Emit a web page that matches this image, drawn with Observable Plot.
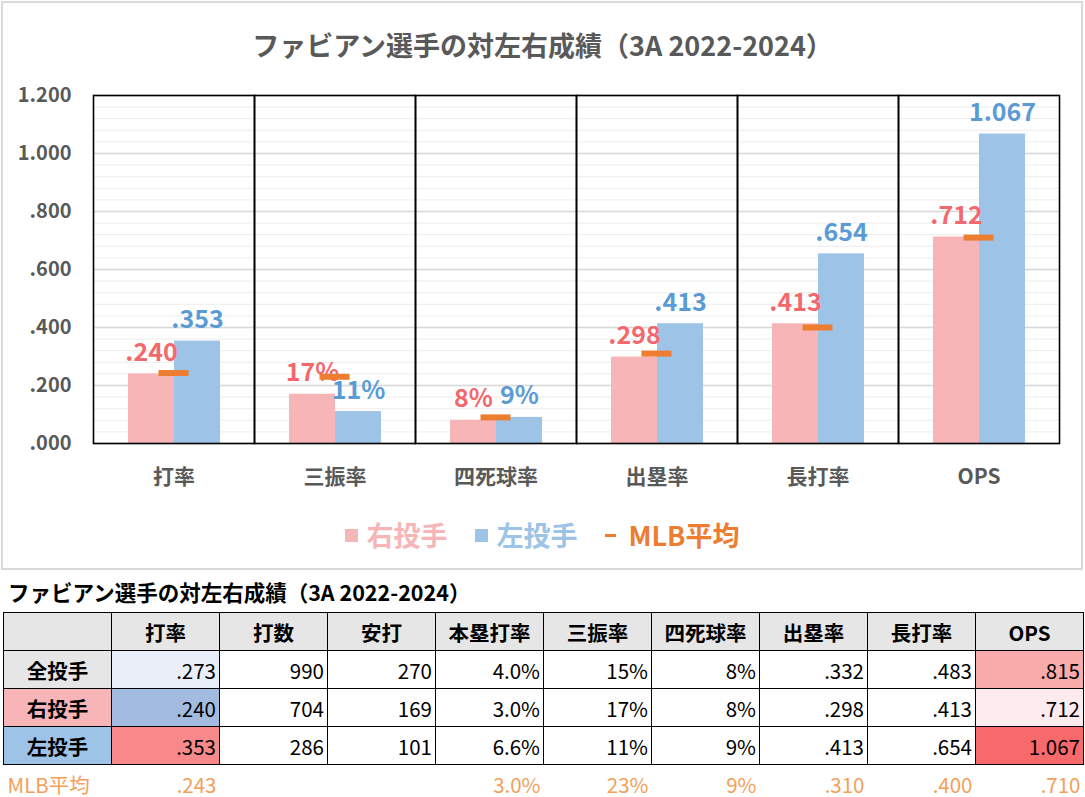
<!DOCTYPE html>
<html>
<head>
<meta charset="utf-8">
<script src="https://cdn.jsdelivr.net/npm/d3@7"></script>
<script src="https://cdn.jsdelivr.net/npm/@observablehq/plot@0.6"></script>
<style>
  html, body { margin: 0; padding: 0; background: #fff; }
  body { width: 1085px; height: 797px; position: relative; overflow: hidden;
         font-family: "Noto Sans CJK JP", "Noto Sans", sans-serif; }
  #chartbox { position: absolute; left: 1px; top: 1px; width: 1082px; height: 569px;
              box-sizing: border-box; border: 2px solid #d9d9d9; }
  #title { position: absolute; left: 0; top: 26px; width: 1085px; text-align: center;
           font-size: 27px; font-weight: 700; color: #595959; line-height: 38px; }
  #plot { position: absolute; left: 0; top: 60px; }
  #legend { position: absolute; left: 0; top: 515px; width: 1085px; display: flex;
            justify-content: center; align-items: center; font-size: 27px; font-weight: 700; line-height: 40px; }
  #legend .item { display: flex; align-items: center; margin: 0 14px; }
  #legend .sw { width: 13px; height: 13px; margin-right: 8px; }
  #legend .dash { width: 11px; height: 3px; margin-right: 12px; }
  #ttitle { position: absolute; left: 8px; top: 576px; font-size: 21.5px; font-weight: 700; color: #000; line-height: 32px; }
  #tbl { position: absolute; left: 3px; top: 612px; border-collapse: collapse; }
  #tbl td { width: 108px; height: 38px; box-sizing: border-box; border: 1.5px solid #000;
            font-size: 20.5px; padding: 0 3px; color: #000; line-height: 36px; }
  #tbl td.num { text-align: right; font-weight: 400; }
  #tbl td.hd { text-align: center; font-weight: 700; background: #e7e6e6; }
  #tbl tr.mlb td { border: none; color: #f4a05a; font-weight: 400; }
  #tbl tr.mlb td.lab { text-align: left; padding-left: 4px; }
</style>
</head>
<body>
<div id="chartbox"></div>
<div id="title">ファビアン選手の対左右成績（3A 2022-2024）</div>
<div id="plot"></div>
<div id="legend"></div>
<div id="ttitle">ファビアン選手の対左右成績（3A 2022-2024）</div>
<table id="tbl"></table>
<script>
// ---------- chart data ----------
const categories = ["打率", "三振率", "四死球率", "出塁率", "長打率", "OPS"];
const percentCategories = ["三振率", "四死球率"];
const seriesNames = ["右投手", "左投手"];
const rightValues = [0.240, 0.17, 0.08, 0.298, 0.413, 0.712];
const leftValues  = [0.353, 0.11, 0.09, 0.413, 0.654, 1.067];
const mlbValues   = [0.243, 0.23, 0.09, 0.310, 0.400, 0.710];
const yTicks = [0, 0.2, 0.4, 0.6, 0.8, 1.0, 1.2];
const legendLabels = ["右投手", "左投手", "MLB平均"];

// ---------- table data ----------
const tableHeaders = ["打率", "打数", "安打", "本塁打率", "三振率", "四死球率", "出塁率", "長打率", "OPS"];
const rowLabels = ["全投手", "右投手", "左投手"];
const rowAll   = [".273", "990", "270", "4.0%", "15%", "8%", ".332", ".483", ".815"];
const rowRight = [".240", "704", "169", "3.0%", "17%", "8%", ".298", ".413", ".712"];
const rowLeft  = [".353", "286", "101", "6.6%", "11%", "9%", ".413", ".654", "1.067"];
const mlbLabel = "MLB平均";
const rowMlb   = [".243", "", "", "3.0%", "23%", "9%", ".310", ".400", ".710"];

// ---------- styles ----------
const barColors = ["#f8b5b8", "#9dc3e6"];
const labelColors = ["#f3686d", "#5b9bd5"];
const mlbColor = "#ed7d31";
const rowHeaderBg = ["#e7e6e6", "#f8b5b8", "#9dc3e6"];
const condBg = {
  "打率": ["#e9eef8", "#a4bbe0", "#f8898b"],
  "OPS":  ["#f9abab", "#fdebee", "#f8696b"]
};

const fmtRate = v => { const s = d3.format(".3f")(v); return s.startsWith("0") ? s.slice(1) : s; };
const fmtPct = d3.format(".0%");

const data = categories.flatMap((c, i) => [
  {cat: c, series: seriesNames[0], value: rightValues[i]},
  {cat: c, series: seriesNames[1], value: leftValues[i]}
]);
const mlb = categories.map((c, i) => ({cat: c, value: mlbValues[i]}));
const fmtLabel = d => percentCategories.includes(d.cat) ? fmtPct(d.value) : fmtRate(d.value);

const W = 1085, H = 440;
const chart = Plot.plot({
  width: W, height: H,
  marginLeft: 92, marginRight: 26, marginTop: 35, marginBottom: 57,
  style: {fontFamily: '"Noto Sans CJK JP", "Noto Sans", sans-serif', background: "transparent"},
  fx: {domain: categories, padding: 0, label: null, axis: null},
  x: {domain: seriesNames, paddingInner: 0, paddingOuter: 0.75, axis: null},
  y: {domain: [0, 1.2], label: null},
  color: {domain: seriesNames, range: barColors},
  marks: [
    Plot.gridY(d3.range(0, 1.2001, 0.04), {stroke: "#f0f0f0", strokeOpacity: 1, strokeWidth: 1.3}),
    Plot.gridY(yTicks, {stroke: "#d9d9d9", strokeOpacity: 1, strokeWidth: 1.3}),
    Plot.barY(data, {fx: "cat", x: "series", y: "value", fill: "series"}),
    Plot.text(data, {fx: "cat", x: "series", y: "value", text: fmtLabel,
      fill: d => labelColors[seriesNames.indexOf(d.series)],
      fontSize: 25, fontWeight: 700, lineAnchor: "bottom", dy: -13}),
    Plot.tickY(mlb, {fx: "cat", y: "value", stroke: mlbColor, strokeWidth: 6, insetLeft: 65.5, insetRight: 65.5}),
    Plot.frame({stroke: "#000", strokeWidth: 1.6}),
    Plot.axisY(yTicks, {tickFormat: fmtRate, tickSize: 0, tickPadding: 22, fontSize: 20, fontWeight: 700, color: "#595959", label: null}),
    Plot.axisFx({anchor: "bottom", tickSize: 0, tickPadding: 26, fontSize: 21, fontWeight: 700, color: "#595959", label: null})
  ]
});
document.getElementById("plot").appendChild(chart);

// legend
const legend = d3.select("#legend");
legendLabels.forEach((lab, i) => {
  const it = legend.append("div").attr("class", "item");
  if (i < 2) {
    it.append("div").attr("class", "sw").style("background", barColors[i]);
    it.append("span").style("color", barColors[i]).text(lab);
  } else {
    it.append("div").attr("class", "dash").style("background", mlbColor);
    it.append("span").style("color", mlbColor).text(lab);
  }
});

// table
const tbl = d3.select("#tbl");
const hr = tbl.append("tr");
hr.append("td").attr("class", "hd");
tableHeaders.forEach(h => hr.append("td").attr("class", "hd").text(h));
[rowAll, rowRight, rowLeft].forEach((row, r) => {
  const tr = tbl.append("tr");
  tr.append("td").attr("class", "hd").style("background", rowHeaderBg[r]).text(rowLabels[r]);
  row.forEach((v, c) => {
    const td = tr.append("td").attr("class", "num").text(v);
    const bg = condBg[tableHeaders[c]];
    if (bg) td.style("background", bg[r]);
  });
});
const mr = tbl.append("tr").attr("class", "mlb");
mr.append("td").attr("class", "lab").text(mlbLabel);
rowMlb.forEach(v => mr.append("td").attr("class", "num").text(v));
</script>
</body>
</html>
